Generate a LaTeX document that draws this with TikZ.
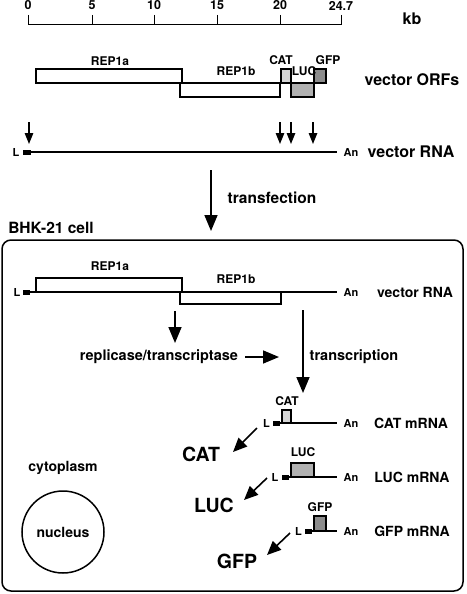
\documentclass[tikz,border=0pt]{standalone}
\usepackage{fontspec}
\setmainfont{TeX Gyre Heros}
\usetikzlibrary{arrows.meta}
\definecolor{catgray}{gray}{0.83}
\definecolor{lucgray}{gray}{0.69}
\definecolor{gfpgray}{gray}{0.55}
\begin{document}
\begin{tikzpicture}[x=1pt,y=-1pt,
  lbl/.style={font=\bfseries\fontsize{#1}{#1}\selectfont, inner sep=0pt},
  orf/.style={draw, line width=1.5pt},
  rna/.style={line width=1.5pt},
  leader/.style={fill=black},
  bigarrow/.style={-{Triangle[length=16pt,width=13pt]}, line width=1.6pt},
  diagarrow/.style={-{Triangle[length=14pt,width=12pt]}, line width=1.6pt},
  smallarrow/.style={-{Triangle[length=11pt,width=8.5pt]}, line width=1.4pt}
]
\useasboundingbox (0,0) rectangle (466,594);

% ---------- scale bar ----------
\draw[line width=1pt] (28,25) -- (341,25);
\foreach \x/\t/\n in {28/0/s0,92/5/s5,154/10/s10,217/15/s15,280/20/s20,341/24.7/s25}{
  \draw[line width=1pt] (\x,15) -- (\x,25);
  \node[lbl=12.5] (\n) at (\x,5.5) {\t};
}
\node[lbl=16] (kb) at (412,19) {kb};

% ---------- vector ORFs ----------
\draw[orf] (36,69) rectangle (182,83);
\draw[orf] (180,83) rectangle (280,97);
\draw[orf, fill=catgray] (281,69) rectangle (291,83);
\draw[orf, fill=lucgray] (291,83) rectangle (314,97);
\draw[orf, fill=gfpgray] (314,69) rectangle (326,83);
\node[lbl=12] (orfA) at (110,61) {REP1a};
\node[lbl=12] (orfB) at (236,71) {REP1b};
\node[lbl=12] (orfCAT) at (281,60) {CAT};
\node[lbl=12] (orfLUC) at (304,71) {LUC};
\node[lbl=12] (orfGFP) at (328,60) {GFP};
\node[lbl=16] (vorf) at (412,80) {vector ORFs};

% ---------- vector RNA ----------
\draw[rna] (30,152) -- (337,152);
\fill[leader] (23,149.5) rectangle (31,154.5);
\node[lbl=11] (vL) at (16,152) {L};
\node[lbl=11] (vAn) at (351,152) {An};
\node[lbl=16] (vrna) at (411,152) {vector RNA};
\foreach \x/\n in {29/m1,280/m2,291/m3,313/m4}{
  \coordinate (\n s) at (\x,122);
  \coordinate (\n e) at (\x,144);
  \draw[smallarrow] (\n s) -- (\n e);
}

% ---------- transfection ----------
\coordinate (tfs) at (211,170);
\coordinate (tfe) at (211,231);
\draw[bigarrow] (tfs) -- (tfe);
\node[lbl=15.5] (tf) at (272,198) {transfection};

% ---------- cell ----------
\node[lbl=15.5] (bhk) at (51,228) {BHK-21 cell};
\draw[line width=1.5pt, rounded corners=9pt] (2,240) rectangle (463,591);

% vector RNA inside
\draw[rna] (30,292) -- (337,292);
\draw[orf] (36,278) rectangle (182,292);
\draw[orf] (180,292) rectangle (281,304);
\fill[leader] (23,289.5) rectangle (30,294.5);
\node[lbl=11] (iL) at (17,292) {L};
\node[lbl=11] (iAn) at (351,292) {An};
\node[lbl=12] (iA) at (110,266) {REP1a};
\node[lbl=12] (iB) at (236,279) {REP1b};
\node[lbl=14] (irna) at (415,292) {vector RNA};

\coordinate (r1s) at (175,311);
\coordinate (r1e) at (175,343);
\draw[bigarrow] (r1s) -- (r1e);
\node[lbl=14.5] (rep) at (159,357) {replicase/transcriptase};
\coordinate (r2s) at (245,357);
\coordinate (r2e) at (279,357);
\draw[bigarrow] (r2s) -- (r2e);
\node[lbl=14.5] (trn) at (354,357) {transcription};
\coordinate (r3s) at (303,310);
\coordinate (r3e) at (303,393);
\draw[bigarrow] (r3s) -- (r3e);

% CAT mRNA
\draw[rna] (280,423) -- (337,423);
\draw[orf, fill=catgray] (282,410) rectangle (291,423);
\fill[leader] (273,420.5) rectangle (280,425.5);
\node[lbl=11] (cL) at (266.5,423) {L};
\node[lbl=11] (cAn) at (351,423) {An};
\node[lbl=12] (cbox) at (287,401) {CAT};
\node[lbl=14] (cm) at (411,423) {CAT mRNA};
\coordinate (c1) at (257,428);
\coordinate (c2) at (233,452);
\draw[diagarrow] (c1) -- (c2);
\node[lbl=19.5] (cp) at (201,454) {CAT};

% LUC mRNA
\draw[rna] (289,477) -- (337,477);
\draw[orf, fill=lucgray] (291,463) rectangle (314,477);
\fill[leader] (282,474.5) rectangle (289,479.5);
\node[lbl=11] (lL) at (275,477) {L};
\node[lbl=11] (lAn) at (351,477) {An};
\node[lbl=12] (lbox) at (303,452) {LUC};
\node[lbl=14] (lm) at (412,477) {LUC mRNA};
\coordinate (l1) at (267,478);
\coordinate (l2) at (244,500);
\draw[diagarrow] (l1) -- (l2);
\node[lbl=19.5] (lp) at (214,505) {LUC};

% GFP mRNA
\draw[rna] (312,531) -- (337,531);
\draw[orf, fill=gfpgray] (314,516) rectangle (326,531);
\fill[leader] (305,528.5) rectangle (312,533.5);
\node[lbl=11] (gL) at (298.5,531) {L};
\node[lbl=11] (gAn) at (351,531) {An};
\node[lbl=12] (gbox) at (320,507) {GFP};
\node[lbl=14] (gm) at (412,531) {GFP mRNA};
\coordinate (g1) at (290,533);
\coordinate (g2) at (267,555);
\draw[diagarrow] (g1) -- (g2);
\node[lbl=19.5] (gp) at (237,561) {GFP};

% cytoplasm / nucleus
\node[lbl=14] (cyto) at (63,468) {cytoplasm};
\node[draw, circle, line width=1.5pt, minimum size=82pt, inner sep=0pt, font=\bfseries\fontsize{14}{14}\selectfont] (nuc) at (63,532) {nucleus};
\end{tikzpicture}
\end{document}
